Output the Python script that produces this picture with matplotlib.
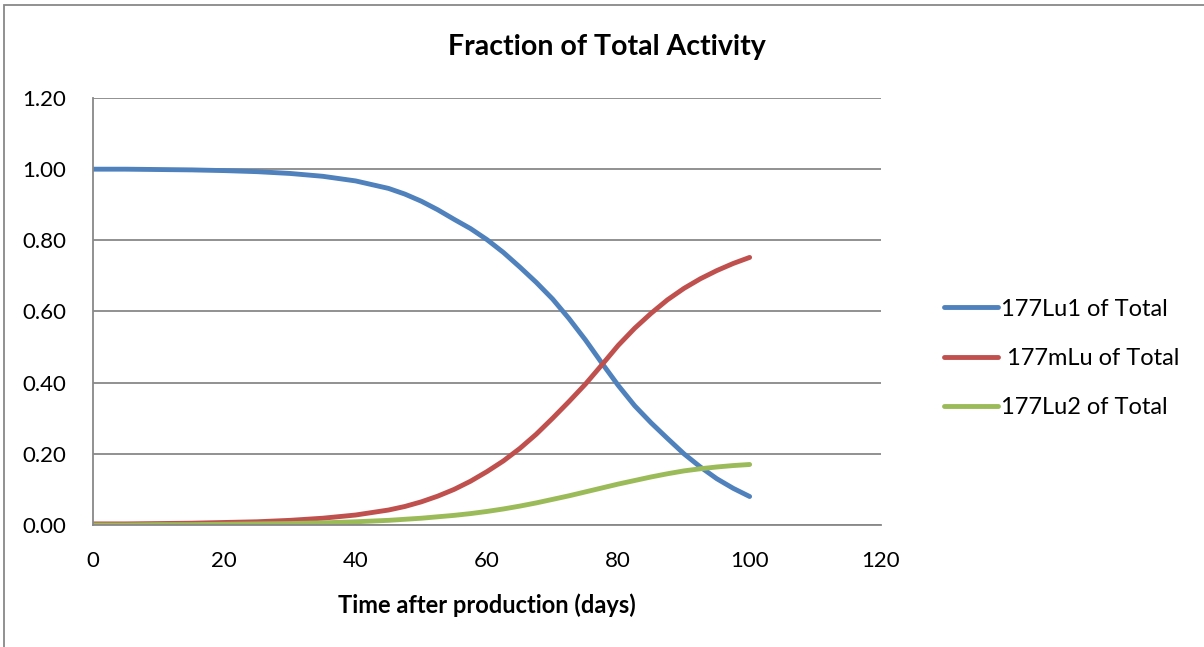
import matplotlib.pyplot as plt
from matplotlib.patches import Rectangle

# --- date ---
days = [0, 5, 10, 15, 20, 25, 30, 35, 40, 45, 47.5, 50, 52.5, 55, 57.5, 60, 62.5, 65,
        67.5, 70, 72.5, 75, 77.5, 80, 82.5, 85, 87.5, 90, 92.5, 95, 97.5, 100]
lu1 = [1.000, 1.000, 0.999, 0.998, 0.996, 0.993, 0.988, 0.980, 0.967, 0.946, 0.930,
       0.910, 0.886, 0.859, 0.833, 0.802, 0.766, 0.725, 0.682, 0.635, 0.580, 0.520,
       0.455, 0.392, 0.335, 0.287, 0.243, 0.200, 0.163, 0.130, 0.103, 0.080]
mlu = [0.003, 0.003, 0.004, 0.005, 0.007, 0.009, 0.013, 0.019, 0.028, 0.042, 0.052,
       0.065, 0.081, 0.100, 0.123, 0.150, 0.180, 0.215, 0.255, 0.300, 0.347, 0.396,
       0.450, 0.505, 0.553, 0.595, 0.633, 0.665, 0.692, 0.715, 0.735, 0.752]
lu2 = [0.000, 0.000, 0.001, 0.001, 0.002, 0.003, 0.004, 0.006, 0.009, 0.013, 0.016,
       0.019, 0.023, 0.027, 0.032, 0.038, 0.045, 0.053, 0.062, 0.072, 0.082, 0.093,
       0.104, 0.115, 0.125, 0.135, 0.144, 0.152, 0.158, 0.163, 0.167, 0.170]

labels = ['177Lu1 of Total', ' 177mLu of Total', '177Lu2 of Total']
colors = ['#4F81BD', '#C0504D', '#9BBB59']
xticks = [0, 20, 40, 60, 80, 100, 120]
yticks = [0.0, 0.2, 0.4, 0.6, 0.8, 1.0, 1.2]

plt.rcParams['font.family'] = ['Lato', 'DejaVu Sans']

fig = plt.figure(figsize=(12.04, 6.47), dpi=100)
ax = fig.add_axes([0.0772, 0.1886, 0.6545, 0.6599])

for y, lab, c in zip([lu1, mlu, lu2], labels, colors):
    ax.plot(days, y, color=c, lw=3.5, label=lab, solid_capstyle='round',
            solid_joinstyle='round')

ax.set_xlim(0, 120)
ax.set_ylim(0, 1.2)
ax.set_xticks(xticks)
ax.set_yticks(yticks)
ax.set_yticklabels([f'{v:.2f}' for v in yticks])
ax.tick_params(length=0, labelsize=16)
ax.tick_params(axis='y', pad=19)
ax.tick_params(axis='x', pad=19)

ax.grid(axis='y', color='#888888', lw=1.3)
ax.set_axisbelow(True)
for s in ['top', 'right']:
    ax.spines[s].set_visible(False)
for s in ['left', 'bottom']:
    ax.spines[s].set_color('#888888')
    ax.spines[s].set_linewidth(1.3)

fig.text(0.504, 0.928, 'Fraction of Total Activity', fontsize=20.5, fontweight='bold',
         ha='center', va='center')
ax.set_xlabel('Time after production (days)', fontsize=17, fontweight='bold', labelpad=16)

ax.legend(loc='center left', bbox_to_anchor=(1.053, 0.39), frameon=False, fontsize=17,
          handlelength=2.3, handletextpad=0.1, labelspacing=1.2)

# chenarul graficului
fig.patches.append(Rectangle((0.0035, -0.01), 1.0, 1.0025, transform=fig.transFigure,
                             fill=False, edgecolor='#888888', lw=1.3))

fig.savefig('out.png', dpi=100)
